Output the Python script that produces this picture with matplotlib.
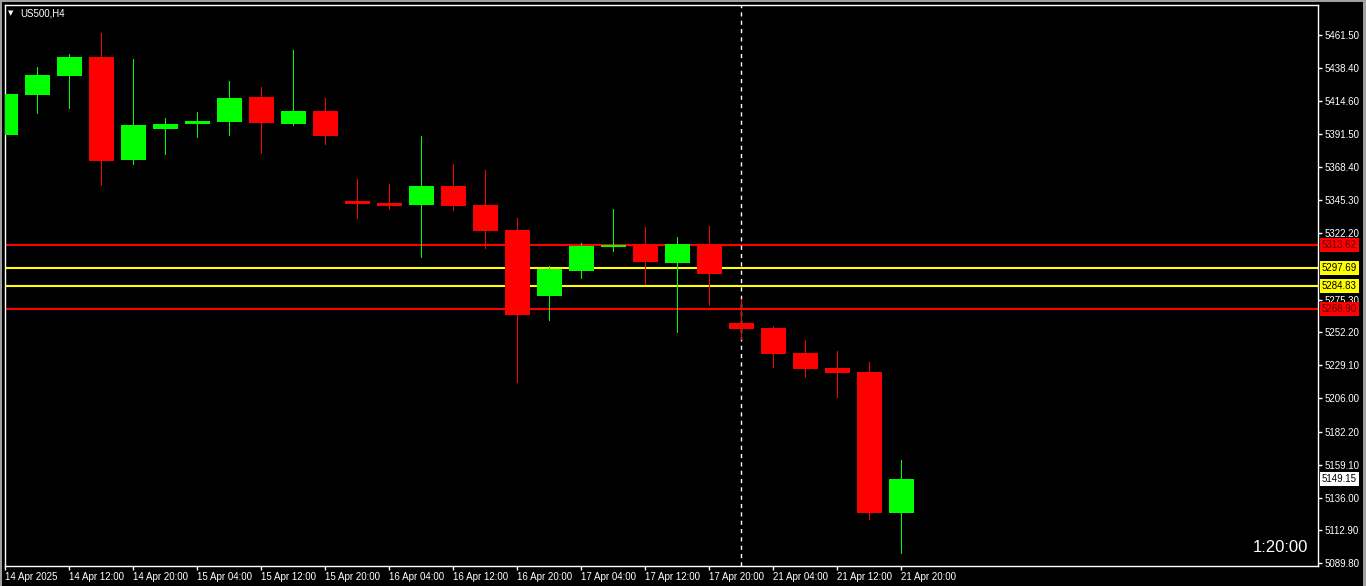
import numpy as np
import matplotlib.pyplot as plt
from matplotlib.transforms import blended_transform_factory

# US500 H4 candles
opens  = [5390.97, 5419.10, 5432.67, 5445.82, 5373.60, 5395.40, 5398.91, 5400.32, 5417.69, 5398.91,
          5407.84, 5344.56, 5343.15, 5341.74, 5355.10, 5341.74, 5324.16, 5277.96, 5295.54, 5312.42,
          5313.62, 5301.17, 5313.62, 5258.77, 5255.25, 5237.67, 5227.12, 5224.31, 5125.16]
highs  = [5422.61, 5438.79, 5447.93, 5462.69, 5444.41, 5402.92, 5407.14, 5428.94, 5424.72, 5450.74,
          5416.99, 5360.03, 5356.51, 5390.26, 5370.58, 5366.36, 5332.60, 5299.06, 5315.02, 5338.93,
          5326.27, 5319.24, 5326.98, 5275.64, 5256.66, 5246.81, 5239.08, 5231.34, 5162.43]
lows   = [5380.42, 5406.65, 5410.17, 5356.02, 5370.79, 5377.82, 5389.77, 5391.18, 5378.52, 5398.21,
          5384.85, 5332.81, 5339.14, 5305.39, 5338.44, 5311.72, 5217.28, 5261.09, 5290.62, 5309.61,
          5286.40, 5252.65, 5271.63, 5247.52, 5227.83, 5220.79, 5206.73, 5120.94, 5097.03]
closes = [5419.80, 5433.16, 5445.82, 5372.90, 5398.00, 5398.70, 5400.81, 5416.99, 5399.62, 5407.84,
          5390.48, 5342.66, 5341.25, 5355.10, 5341.25, 5323.67, 5264.60, 5296.74, 5312.91, 5313.62,
          5301.87, 5314.32, 5293.43, 5254.55, 5237.18, 5226.42, 5223.61, 5125.16, 5149.15]

x_labels = ['14 Apr 2025', '14 Apr 12:00', '14 Apr 20:00', '15 Apr 04:00', '15 Apr 12:00',
            '15 Apr 20:00', '16 Apr 04:00', '16 Apr 12:00', '16 Apr 20:00', '17 Apr 04:00',
            '17 Apr 12:00', '17 Apr 20:00', '21 Apr 04:00', '21 Apr 12:00', '21 Apr 20:00']
y_ticks = [5461.50, 5438.40, 5414.60, 5391.50, 5368.40, 5345.30, 5322.20, 5275.30,
           5252.20, 5229.10, 5206.00, 5182.20, 5159.10, 5136.00, 5112.90, 5089.80]

levels = [5313.62, 5297.69, 5284.83, 5268.90]
level_colors = ['#ff0000', '#ffff00', '#ffff00', '#ff0000']
level_text = ['#5a0000', 'black', 'black', '#5a0000']
last_price = 5149.15
separator_bar = 23

W, H = 1366, 586
fig = plt.figure(figsize=(W / 100, H / 100), dpi=100, facecolor='black')
ax = fig.add_axes([5 / W, 20 / H, 1313 / W, 561 / H], facecolor='black')

o = np.array(opens); c = np.array(closes)
hi = np.array(highs); lo = np.array(lows)
xs = np.arange(len(o))
up = c >= o
cols = np.where(up, '#00ff00', '#ff0000')

for lv, col in zip(levels, level_colors):
    ax.axhline(lv, color=col, lw=1.5, zorder=1)
ax.axvline(separator_bar, color='white', lw=1, ls=(0, (3, 3)), zorder=1)

ax.vlines(xs, lo, hi, colors=cols, lw=0.5, antialiased=False, zorder=2)
bottoms = np.minimum(o, c)
heights = np.maximum(np.abs(c - o), 1.5)
ax.bar(xs, heights, bottom=bottoms, width=0.78, color=cols, edgecolor='none', zorder=3)

ax.set_xlim(-0.01, 41.02)
ax.set_ylim(5087.9, 5482.4)

for s in ax.spines.values():
    s.set_color('white')
    s.set_linewidth(1)

ax.yaxis.tick_right()
ax.set_yticks(y_ticks)
ax.set_yticklabels(['%.2f' % v for v in y_ticks])
ax.set_xticks(xs[::2])
ax.set_xticklabels(x_labels)
ax.tick_params(axis='both', colors='white', length=3, width=1, direction='out',
               labelsize=7, labelcolor='white')
ax.tick_params(axis='x', pad=1.5)
ax.tick_params(axis='y', pad=2)
for t in ax.get_xticklabels():
    t.set_ha('left')
    t.set_fontfamily('Liberation Sans')
for t in ax.get_yticklabels():
    t.set_fontfamily('Liberation Sans')

# price labels on the right scale
tr = blended_transform_factory(fig.transFigure, ax.transData)
for lv, col, tc in zip(levels, level_colors, level_text):
    ax.text(1322 / W, lv, '%.2f' % lv, transform=tr, ha='left', va='center', fontsize=7,
            family='Liberation Sans', color=tc, clip_on=False, zorder=5,
            bbox=dict(boxstyle='square,pad=0.2', fc=col, ec='none'))
ax.text(1322 / W, last_price, '%.2f' % last_price, transform=tr, ha='left', va='center',
        fontsize=7, family='Liberation Sans', color='black', clip_on=False, zorder=5,
        bbox=dict(boxstyle='square,pad=0.2', fc='white', ec='none'))

fig.text(8 / W, 1 - 13 / H, '\u25bc', color='white', fontsize=5, va='center', ha='left')
fig.text(20 / W, 1 - 13 / H, 'US500,H4', color='white', fontsize=7, va='center', ha='left',
         family='Liberation Sans')
fig.text(1308 / W, 1 - 547 / H, '1:20:00', color='white', fontsize=12, va='center', ha='right',
         family='Liberation Sans')

# grey window edges
grey = '#a0a0a0'
fig.patches.append(plt.Rectangle((0, 0), 2 / W, 1, transform=fig.transFigure, fc=grey, ec='none'))
fig.patches.append(plt.Rectangle((1 - 3 / W, 0), 3 / W, 1, transform=fig.transFigure, fc=grey, ec='none'))
fig.patches.append(plt.Rectangle((0, 1 - 2 / H), 1, 2 / H, transform=fig.transFigure, fc=grey, ec='none'))

fig.savefig('out.png', dpi=100, facecolor='black')
